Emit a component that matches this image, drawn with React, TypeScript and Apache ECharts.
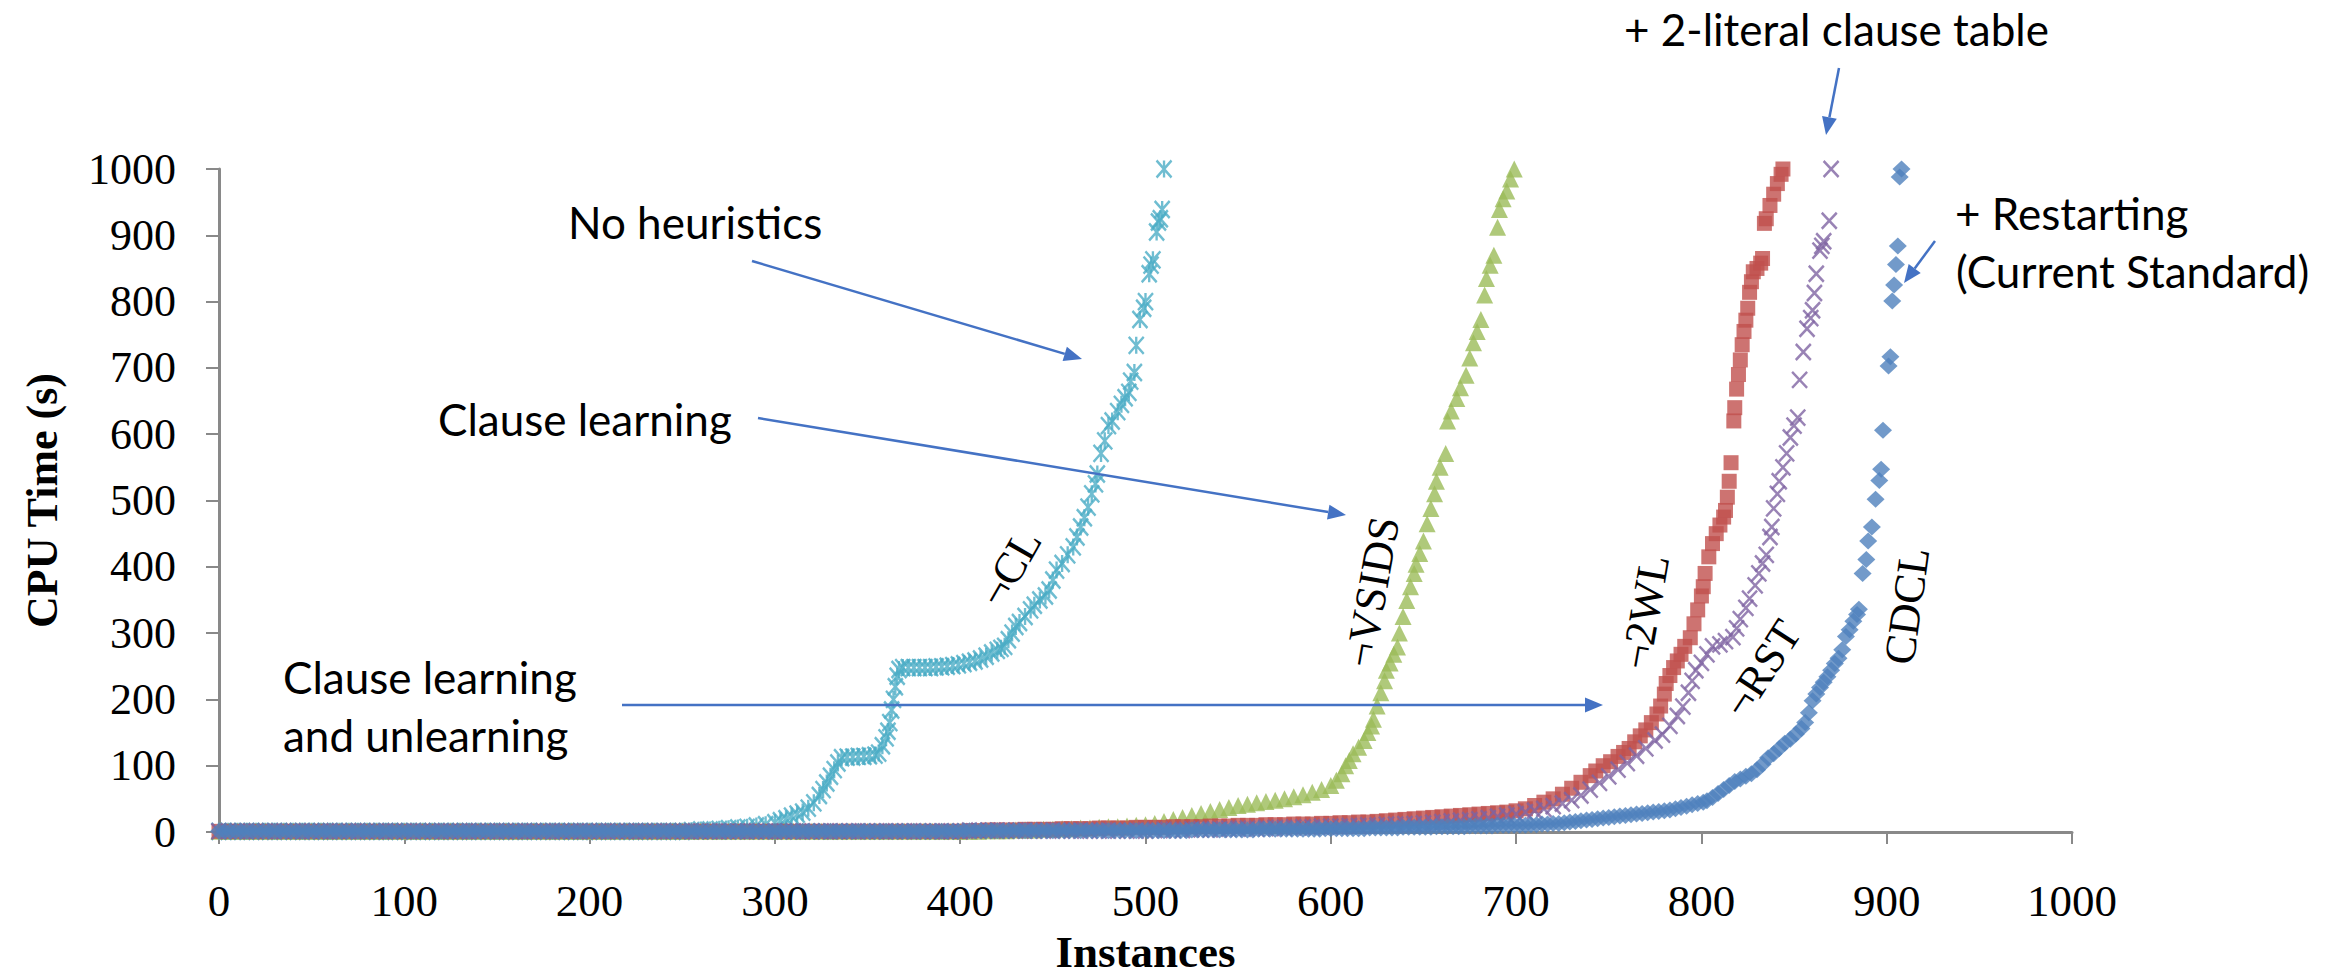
import React, { useEffect, useRef } from "react";
import * as echarts from "echarts";

// ---------- Data (x = instances solved, y = CPU time in s) ----------
// Low, flat part of each curve: y values at a fixed instance step.
const cdclLowStep = 3;
const cdclLow = [
  1,1,1,1,1,1,1,1,1,1,1,1,1,1,1,1,1,1,1,1,
  1,1,1,1,1,1,1,1,1,1,1,1,1,1,1,1,1,1,1,1,
  1,1,1,1,1,1,1,1,1,1,1,1,1,1,1,1,1,1,1,1,
  1,1,1,1,1,1,1,1,1,1,1,1,1,1,1,1,1,1,1,1,
  1,1,1,1,1,1,1,1,1,1,1,1,1,1,1,1,1,1,1,1,
  1,1,1,1,1,1,1,1,1,1,1,1,1,1,1,1,1,1,1,1,
  1,1,1,1,1,1,1,1,1,1,1,1,1,1,
  2,2,2,2,2,2,2,2,2,2,2,2,2,2,2,2,2,2,2,2,
  2,2,2,2,2,2,2,2,2,2,2,2,2,2,
  2,2,2,2,2,2,2,3,3,3,3,3,3,3,3,3,3,3,3,4,
  4,4,4,4,4,4,4,4,4,4,4,5,5,
  5,5,5,5,5,5,6,6,6,6,6,6,7,7,7,7,7,7,8,8,
  8,8,8,8,9,9,9,9,9,10,10,10,10,
  10,10,11,11,12,12,13,13,14,15,16,17,18,19,20,21,22,23,24,25,
  26,27,28,29,30,31,32,33,35,37,39,41,43,45,
];
const cdclHigh: [number, number][] = [
  [803,47],[806,52],[809,58],[812,64],[815,70],[818,76],[821,80],[824,84],[827,88],[830,94],
  [833,102],[836,112],[839,118],[842,126],[845,134],[848,140],[851,148],[854,156],[856,165],
  [858,180],[860,198],[862,208],[864,218],[866,226],[868,234],[870,244],[872,254],[874,262],
  [876,275],[878,295],[880,305],[882,318],[884,328],[885,336],[887,390],[889,411],[890,439],
  [892,460],[894,502],[896,530],[897,547],[898,606],[901,703],[902,717],[903,801],[904,825],
  [905,856],[906,884],[907,988],[908,1000],
];

const lowStep = 5;
const cyanLow = [
  1,1,1,1,1,1,1,1,1,1,1,1,1,1,1,1,1,1,1,1,
  1,1,1,1,1,1,1,1,1,1,1,1,1,1,1,1,1,1,1,1,
  1,1,1,1,1,1,1,1,1,1,1,
  2,3,3,4,5,6,7,9,11,14,
];
const cyanHigh: [number, number][] = [
  [303,17],[306,20],[309,24],[312,27],[315,30],[318,36],[321,44],[324,55],[326,64],[328,74],
  [330,84],[332,94],[334,104],[336,112],[339,113],[342,113],[345,114],[348,114],[351,115],
  [354,116],[356,119],[358,130],[360,142],[361,152],[362,165],[363,184],[364,200],[365,219],
  [366,235],[367,245],[369,248],[372,248],[375,248],[378,248],[381,248],[384,248],[387,249],
  [390,249],[393,250],[396,251],[399,252],[402,254],[405,256],[408,258],[411,261],[414,265],
  [417,270],[420,274],[422,277],[424,280],[426,290],[428,300],[430,310],[432,316],[435,325],
  [438,335],[440,342],[443,350],[446,356],[448,365],[450,380],[452,395],[455,405],[458,418],
  [461,430],[463,445],[465,460],[467,474],[469,490],[471,510],[473,525],[474,540],[476,571],
  [478,590],[480,613],[482,620],[485,634],[487,645],[489,655],[491,663],[492,680],[494,693],
  [495,734],[497,773],[499,790],[500,800],[502,842],[503,855],[504,863],[506,905],[507,920],
  [508,925],[509,939],[510,1000],
];

const greenLow = [
  1,1,1,1,1,1,1,1,1,1,1,1,1,1,1,1,1,1,1,1,
  1,1,1,1,1,1,1,1,1,1,1,1,1,1,1,1,1,1,1,1,
  1,1,1,1,1,1,1,1,1,1,1,1,1,1,1,1,1,1,1,1,
  1,1,1,1,1,1,1,1,1,1,1,1,1,1,1,1,1,1,1,1,
  1,
  1,1,2,2,2,3,3,3,4,4,
  5,5,6,6,7,8,8,9,10,11,
  13,16,19,22,25,28,31,34,37,40,
  42,44,46,48,50,53,56,60,64,70,
];
const greenHigh: [number, number][] = [
  [603,78],[606,88],[608,100],[610,108],[612,118],[615,128],[618,138],[620,150],[622,160],
  [623,170],[625,190],[627,210],[629,228],[630,244],[632,255],[634,268],[636,279],[637,300],
  [639,325],[641,349],[643,370],[645,390],[646,404],[648,420],[650,439],[652,465],[654,488],
  [656,510],[657,529],[659,550],[662,571],[663,620],[665,635],[668,654],[670,670],[673,689],
  [675,715],[677,738],[679,755],[681,773],[683,810],[684,835],[686,855],[688,870],[690,912],
  [691,939],[693,955],[695,967],[697,985],[699,1000],
];

const redLow = [
  1,1,1,1,1,1,1,1,1,1,1,1,1,1,1,1,1,1,1,1,
  1,1,1,1,1,1,1,1,1,1,1,1,1,1,1,1,1,1,1,1,
  1,1,1,1,1,1,1,1,1,1,1,1,1,1,1,1,1,1,1,1,
  1,1,1,1,1,1,1,1,1,1,1,1,1,1,1,1,1,1,1,1,
  1,
  2,2,3,3,3,3,4,4,4,4,
  5,5,5,5,6,6,6,6,7,7,
  7,7,8,8,8,8,9,9,9,10,
  10,10,11,11,11,12,12,12,13,13,
  14,14,15,15,16,17,18,19,20,21,
  22,23,24,25,26,27,28,29,30,32,
];
const redHigh: [number, number][] = [
  [705,35],[710,40],[715,45],[720,50],[725,57],[730,66],[735,75],[740,85],[743,92],[747,100],
  [751,106],[755,114],[758,120],[761,126],[764,136],[767,145],[770,154],[773,165],[776,178],
  [778,190],[780,208],[781,224],[783,236],[785,248],[787,258],[789,268],[791,280],[794,293],
  [796,314],[798,335],[800,356],[801,370],[802,390],[804,415],[806,435],[808,450],[810,463],
  [812,475],[813,485],[814,505],[815,529],[816,557],[817.5,620],[818,640],[819,668],[820,690],
  [821,712],[822,735],[823,755],[824,772],[825,790],[826,814],[827,830],[828,845],[830,850],
  [832,858],[833,865],[834,918],[835,925],[837,945],[839,962],[841,978],[843,992],[844,1000],
];

const purpleLow = [
  1,1,1,1,1,1,1,1,1,1,1,1,1,1,1,1,1,1,1,1,
  1,1,1,1,1,1,1,1,1,1,1,1,1,1,1,1,1,1,1,1,
  1,1,1,1,1,1,1,1,1,1,1,1,1,1,1,1,1,1,1,1,
  1,1,1,1,1,1,1,1,1,1,1,1,1,1,1,1,1,1,1,1,
  1,
  2,2,2,2,2,2,2,2,2,2,2,2,2,2,2,2,2,2,2,2,
  3,3,3,3,4,4,4,4,5,5,5,5,6,6,6,7,7,7,8,8,
  8,9,9,10,10,11,11,12,12,13,14,15,16,17,18,19,21,23,25,27,
  30,32,35,39,
];
const purpleHigh: [number, number][] = [
  [725,43],[730,48],[735,55],[740,64],[745,74],[750,84],[755,94],[760,104],[765,115],[770,126],
  [775,138],[779,147],[783,160],[787,175],[790,189],[793,210],[795,228],[797,244],[800,255],
  [803,268],[806,280],[810,283],[813,288],[817,294],[819,307],[821,321],[824,338],[826,352],
  [829,372],[831,390],[833,405],[835,418],[837,445],[838,460],[839,488],[841,510],[842,529],
  [844,550],[846,571],[848,595],[850,613],[852,625],[853,682],[855,724],[857,759],[859,775],
  [860,787],[861,813],[862,842],[864,877],[865,884],[866,891],[869,922],[870,1000],
];

const xTicks = { min: 0, max: 1000, interval: 100 };
const yTicks = { min: 0, max: 1000, interval: 100 };

const seriesNames = ["¬CL", "¬VSIDS", "¬2WL", "¬RST", "CDCL"];

// ---------- helpers ----------
const build = (low: number[], step: number, high: [number, number][]) =>
  low.map((y, i) => [i * step, y] as [number, number]).concat(high);

const AXIS_GRAY = "#898989";
const ARROW = "#4472C4";
const SERIF = "'Liberation Serif', 'Times New Roman', serif";
const SANS = "Lato, 'Noto Sans', sans-serif";

function arrow(x1: number, y1: number, x2: number, y2: number) {
  const len = 18, hw = 7.5;
  const dx = x2 - x1, dy = y2 - y1;
  const L = Math.hypot(dx, dy);
  const ux = dx / L, uy = dy / L;
  const bx = x2 - ux * len, by = y2 - uy * len;
  return [
    { type: "line", z: 100, shape: { x1, y1, x2: bx, y2: by }, style: { stroke: ARROW, lineWidth: 2.5 } },
    {
      type: "polygon", z: 100,
      shape: { points: [[x2, y2], [bx - uy * hw, by + ux * hw], [bx + uy * hw, by - ux * hw]] },
      style: { fill: ARROW },
    },
  ];
}

function note(text: string, x: number, y: number) {
  return {
    type: "text", z: 100, x, y,
    style: { text, fontFamily: SANS, fontSize: 44, fill: "#000", align: "left", verticalAlign: "middle" },
  };
}

function curveLabel(text: string, x: number, y: number, deg: number) {
  return {
    type: "text", z: 100, x, y, rotation: (deg * Math.PI) / 180,
    style: { text, fontFamily: SERIF, fontSize: 44, fill: "#000", align: "center", verticalAlign: "middle" },
  };
}

export default function App() {
  const ref = useRef<HTMLDivElement>(null);
  useEffect(() => {
    if (!ref.current) return;
    const chart = echarts.init(ref.current, null, { renderer: "svg" });
    const strokeSym = (color: string) => ({ color: "rgba(0,0,0,0)", borderColor: color, borderWidth: 2.5 });
    const plain = (v: number) => String(v);
    const option: any = {
      animation: false,
      backgroundColor: "#fff",
      grid: { left: 219, right: 261, top: 169, bottom: 145, containLabel: false, outerBoundsMode: "none" },
      xAxis: {
        type: "value", ...xTicks,
        name: "Instances", nameLocation: "middle", nameGap: 97,
        nameTextStyle: { fontFamily: SERIF, fontWeight: "bold", fontSize: 45, color: "#000" },
        axisLine: { show: true, lineStyle: { color: AXIS_GRAY, width: 3 } },
        axisTick: { show: true, length: 12, lineStyle: { color: AXIS_GRAY, width: 2 } },
        axisLabel: { fontFamily: SERIF, fontSize: 45, color: "#000", margin: 46, formatter: plain },
        splitLine: { show: false },
      },
      yAxis: {
        type: "value", ...yTicks,
        name: "CPU Time (s)", nameLocation: "middle", nameGap: 155, nameRotate: 90,
        nameTextStyle: { fontFamily: SERIF, fontWeight: "bold", fontSize: 44, color: "#000" },
        axisLine: { show: true, lineStyle: { color: AXIS_GRAY, width: 3 } },
        axisTick: { show: true, length: 13, lineStyle: { color: AXIS_GRAY, width: 2 } },
        axisLabel: { fontFamily: SERIF, fontSize: 44, color: "#000", margin: 43, formatter: plain },
        splitLine: { show: false },
      },
      series: [
        {
          name: seriesNames[0], type: "scatter", data: build(cyanLow, lowStep, cyanHigh),
          symbol: "path://M0,0L10,10M10,0L0,10M5,0L5,10", symbolSize: [15, 17],
          itemStyle: strokeSym("#4BACC6"),
        },
        {
          name: seriesNames[1], type: "scatter", data: build(greenLow, lowStep, greenHigh),
          symbol: "triangle", symbolSize: [17, 17], itemStyle: { color: "#9BBB59" },
        },
        {
          name: seriesNames[2], type: "scatter", data: build(redLow, lowStep, redHigh),
          symbol: "rect", symbolSize: [15, 15], itemStyle: { color: "#C0504D" },
        },
        {
          name: seriesNames[3], type: "scatter", data: build(purpleLow, lowStep, purpleHigh),
          symbol: "path://M0,0L10,10M10,0L0,10", symbolSize: [15, 16],
          itemStyle: strokeSym("#8064A2"),
        },
        {
          name: seriesNames[4], type: "scatter", data: build(cdclLow, cdclLowStep, cdclHigh),
          symbol: "diamond", symbolSize: [18, 17], itemStyle: { color: "#4F81BD" },
        },
      ],
      graphic: [
        curveLabel(seriesNames[0], 1010, 568, 60),
        curveLabel(seriesNames[1], 1372, 592, 80),
        curveLabel(seriesNames[2], 1645, 612, 80),
        curveLabel(seriesNames[3], 1762, 669, 57),
        curveLabel(seriesNames[4], 1907, 606, 82),
        note("No heuristics", 568, 222),
        note("Clause learning", 438, 419),
        note("Clause learning", 283, 677),
        note("and unlearning", 283, 735),
        note("+ 2-literal clause table", 1624, 29),
        note("+ Restarting", 1955, 213),
        note("(Current Standard)", 1956, 271),
        ...arrow(752, 261, 1082, 359),
        ...arrow(758, 418, 1346, 515),
        ...arrow(622, 705, 1603, 705),
        ...arrow(1839, 68, 1826, 135),
        ...arrow(1935, 241, 1904, 283),
      ],
    };
    chart.setOption(option);
    return () => chart.dispose();
  }, []);
  return (
    <div
      ref={ref}
      style={{ position: "absolute", left: 0, top: 0, width: 2333, height: 977, background: "#fff" }}
    />
  );
}
